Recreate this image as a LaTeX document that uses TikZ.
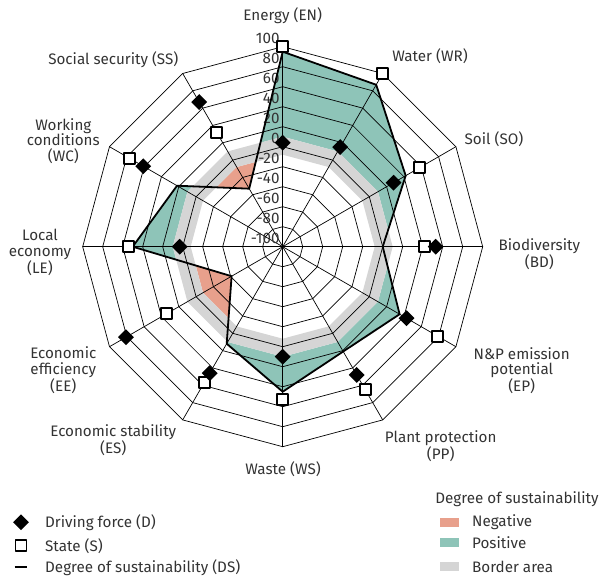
\documentclass[tikz,border=0pt]{standalone}
\usepackage{fontspec}
\setmainfont{Fira Sans}
\usetikzlibrary{shapes.geometric,positioning}
\definecolor{posgreen}{HTML}{8EC4B8}
\definecolor{negred}{HTML}{E8A08C}
\definecolor{bordgray}{HTML}{D5D5D5}
\definecolor{txtgray}{HTML}{333333}
% closed dodecagon of radius #1 (radius 0 = -100, radius 200 = 100)
\newcommand{\polyring}[1]{(0:#1) \foreach \a in {30,60,...,330}{-- (\a:#1)} -- cycle}
\begin{document}
\begin{tikzpicture}[x=1pt, y=1pt, line join=round, line cap=round,
	font=\fontsize{15.2}{15.7}\selectfont, text=txtgray,
	gridline/.style={line width=0.7pt, black},
	dsline/.style={line width=1.8pt, black},
	dmark/.style={diamond, fill=black, inner sep=0pt, minimum size=16pt},
	smark/.style={rectangle, draw=black, fill=white, line width=1.6pt, inner sep=0pt, minimum size=11pt},
	axlabel/.style={align=center, inner sep=0pt},
	legtext/.style={anchor=west, inner sep=0pt},
	swatch/.style={minimum width=19pt, minimum height=9pt, inner sep=0pt}]
	\useasboundingbox (-282.7,-332.3) rectangle (318.3,246.7);
	% name/angle/D/S/DS
	\foreach \p/\q/\d/\s/\g in {EN/90/4/100/95, WR/60/15/100/87, SO/30/28/58/42,
		BD/0/53/42/0, EP/-30/43/79/35, PP/-60/48/65/21, WS/-90/10/53/45,
		ES/-120/46/57/12, EE/-150/81/34/-41, LE/180/3/54/50, WC/150/61/77/22,
		SS/120/67/32/-33}{
		\path (\q:{\d+100}) coordinate (d\p)
		(\q:{\s+100}) coordinate (s\p)
		(\q:{\g+100}) coordinate (g\p);
	}
	% positive and negative areas
	\begin{scope}
		\clip (gEN)--(gWR)--(gSO)--(gBD)--(gEP)--(gPP)--(gWS)--(gES)--(gEE)--(gLE)--(gWC)--(gSS)--cycle;
		\fill[posgreen, even odd rule] (-300,-300) rectangle (300,300) \polyring{110};
	\end{scope}
	\begin{scope}
		\clip \polyring{92};
		\fill[negred, even odd rule] (-300,-300) rectangle (300,300)
		(gEN)--(gWR)--(gSO)--(gBD)--(gEP)--(gPP)--(gWS)--(gES)--(gEE)--(gLE)--(gWC)--(gSS)--cycle;
	\end{scope}
	\fill[bordgray, even odd rule] \polyring{110} \polyring{92};
	% grid
	\foreach \v in {20,40,...,200}
		\draw[gridline] \polyring{\v};
	\foreach \q in {0,30,...,330}
		\draw[gridline] (0,0) -- (\q:200);
	\foreach \v in {100,80,...,-100}
		\node[anchor=east, inner sep=0pt] (tick\v) at (-3,{\v+108}) {\v};
	\draw[dsline] (gEN)--(gWR)--(gSO)--(gBD)--(gEP)--(gPP)--(gWS)--(gES)--(gEE)--(gLE)--(gWC)--(gSS)--cycle;
	\foreach \p in {EN,WR,SO,BD,EP,PP,WS,ES,EE,LE,WC,SS}{
		\node[smark] (S\p) at (s\p) {};
		\node[dmark] (D\p) at (d\p) {};
	}
	% axis labels
	\foreach \p/\x/\y/\t in {EN/0/230.7/{Energy (EN)}, WR/147.3/190.7/{Water (WR)},
		SO/211.3/107.4/{Soil (SO)}, BD/256.6/-7.3/{Biodiversity\\(BD)},
		EP/239/-124/{N\&P emission\\potential\\(EP)}, PP/158/-199.3/{Plant protection\\(PP)},
		WS/0.3/-222.3/{Waste (WS)}, ES/-169.4/-193.3/{Economic stability\\(ES)},
		EE/-219.4/-123.6/{Economic\\efficiency\\(EE)}, LE/-242.7/-5.8/{Local\\economy\\(LE)},
		WC/-219.4/105.7/{Working\\conditions\\(WC)}, SS/-169.4/186.7/{Social security (SS)}}
		\node[axlabel] (lab\p) at (\x,\y) {\t};
	% legend
	\node[dmark] (legD) at (-261.7,-275.6) {};
	\node[smark] (legS) at (-261.7,-299) {};
	\path (-268,-320.6) coordinate (legDSa) (-255.4,-320.6) coordinate (legDSb);
	\draw[dsline, line cap=butt] (legDSa) -- (legDSb);
	\node[legtext] (legDt) at (-237.7,-275.6) {Driving force (D)};
	\node[legtext] (legSt) at (-237.7,-299) {State (S)};
	\node[legtext] (legDSt) at (-237.7,-320.6) {Degree of sustainability (DS)};
	\node[legtext] (legHead) at (152.5,-252.3) {Degree of sustainability};
	\foreach \p/\c/\y/\t in {neg/negred/-275.3/Negative, pos/posgreen/-295.6/Positive, bord/bordgray/-320/Border area}{
		\node[swatch, fill=\c] (sw\p) at (167.1,\y) {};
		\node[legtext] (sw\p t) at (189.3,\y) {\t};
	}
\end{tikzpicture}
\end{document}
